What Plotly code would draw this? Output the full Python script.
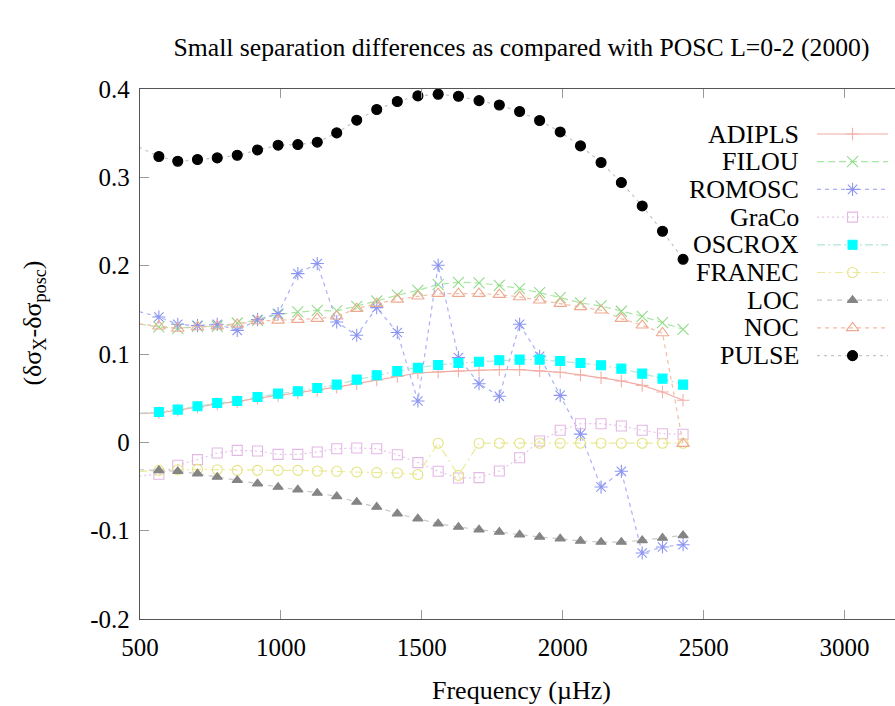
import plotly.graph_objects as go

# Frequencies (µHz) of the compared modes; the first one lies just below the plotted range
freq = [497, 567, 634, 704, 774, 845, 917, 990, 1060, 1129, 1198, 1269, 1340, 1413,
        1486, 1558, 1630, 1703, 1775, 1847, 1918, 1991, 2063, 2136, 2208, 2282, 2354, 2427]

adipls = [0.0325, 0.0335, 0.0365, 0.0400, 0.0435, 0.0460, 0.0500, 0.0530, 0.0560, 0.0590,
          0.0625, 0.0665, 0.0705, 0.0745, 0.0785, 0.0797, 0.0808, 0.0815, 0.0823, 0.0823,
          0.0808, 0.0793, 0.0763, 0.0732, 0.0695, 0.0645, 0.0570, 0.0476]
filou = [0.1340, 0.1306, 0.1289, 0.1314, 0.1314, 0.1351, 0.1381, 0.1450, 0.1476, 0.1495,
         0.1487, 0.1540, 0.1600, 0.1666, 0.1721, 0.1786, 0.1812, 0.1804, 0.1778, 0.1740,
         0.1695, 0.1638, 0.1578, 0.1544, 0.1484, 0.1427, 0.1355, 0.1280]
romosc = [0.1480, 0.1419, 0.1336, 0.1321, 0.1336, 0.1268, 0.1389, 0.1457, 0.1910, 0.2024,
          0.1363, 0.1212, 0.1525, 0.1244, 0.0468, 0.2005, 0.0959, 0.0664, 0.0521, 0.1336,
          0.0974, 0.0532, 0.0093, -0.0506, -0.0328, -0.1253, -0.1185, -0.1159]
graco = [-0.0380, -0.0362, -0.0260, -0.0196, -0.0121, -0.0091, -0.0098, -0.0136, -0.0136, -0.0110,
         -0.0072, -0.0064, -0.0072, -0.0140, -0.0230, -0.0328, -0.0404, -0.0400, -0.0325, -0.0174,
         0.0015, 0.0136, 0.0211, 0.0211, 0.0185, 0.0136, 0.0098, 0.0091]
oscrox = [0.0330, 0.0343, 0.0370, 0.0408, 0.0445, 0.0468, 0.0513, 0.0551, 0.0578, 0.0615,
          0.0653, 0.0710, 0.0759, 0.0806, 0.0845, 0.0876, 0.0898, 0.0913, 0.0929, 0.0936,
          0.0936, 0.0921, 0.0898, 0.0872, 0.0834, 0.0778, 0.0721, 0.0653]
franec = [-0.0330, -0.0317, -0.0310, -0.0306, -0.0310, -0.0317, -0.0317, -0.0317, -0.0317, -0.0325,
          -0.0328, -0.0336, -0.0343, -0.0347, -0.0364, -0.0010, -0.0374, -0.0010, -0.0010, -0.0010,
          -0.0010, -0.0010, -0.0010, -0.0010, -0.0010, -0.0010, -0.0010, -0.0010]
loc = [-0.0310, -0.0317, -0.0328, -0.0355, -0.0393, -0.0430, -0.0468, -0.0506, -0.0536, -0.0574,
       -0.0612, -0.0676, -0.0732, -0.0808, -0.0864, -0.0921, -0.0959, -0.0989, -0.1015, -0.1046,
       -0.1072, -0.1091, -0.1117, -0.1129, -0.1129, -0.1110, -0.1083, -0.1053]
noc = [0.1340, 0.1314, 0.1289, 0.1306, 0.1314, 0.1336, 0.1374, 0.1381, 0.1389, 0.1400,
       0.1427, 0.1514, 0.1570, 0.1618, 0.1653, 0.1684, 0.1684, 0.1684, 0.1672, 0.1646,
       0.1608, 0.1570, 0.1533, 0.1495, 0.1400, 0.1325, 0.1238, -0.0015]
pulse = [0.3340, 0.3236, 0.3182, 0.3202, 0.3220, 0.3250, 0.3310, 0.3364, 0.3371, 0.3398,
         0.3503, 0.3647, 0.3768, 0.3858, 0.3922, 0.3941, 0.3918, 0.3868, 0.3819, 0.3745,
         0.3643, 0.3514, 0.3356, 0.3168, 0.2941, 0.2676, 0.2390, 0.2072]

x_range = [500, 3179]
y_range = [-0.2, 0.4]
x_ticks = [500, 1000, 1500, 2000, 2500, 3000]
y_ticks = [-0.2, -0.1, 0, 0.1, 0.2, 0.3, 0.4]
y_tick_text = ["-0.2", "-0.1", "0", "0.1", "0.2", "0.3", "0.4"]

FONT = "Liberation Serif, Times New Roman, Times, serif"

# name, values, line colour, dash, marker symbol, marker colour, marker size
series = [
    ("ADIPLS", adipls, "#f2aaa2", "solid", "cross-thin-open", "#f2b0a8", 9),
    ("FILOU", filou, "#a8e6a0", "7px,4px", "x-thin-open", "#90dc88", 11),
    ("ROMOSC", romosc, "#aab0f6", "4px,4px", "asterisk-open", "#8c96f2", 11),
    ("GraCo", graco, "#e8c4ea", "2px,3px", "square-open", "#e2b8e4", 10),
    ("OSCROX", oscrox, "#b4e4dc", "8px,3px,2px,3px", "square", "#00ffff", 9),
    ("FRANEC", franec, "#eaea98", "8px,4px,2px,4px", "circle-open", "#e4e480", 10),
    ("LOC", loc, "#c8c8c8", "5px,5px", "triangle-up", "#858585", 9),
    ("NOC", noc, "#f2bca6", "4px,4px", "triangle-up-open", "#eeaa90", 11),
    ("PULSE", pulse, "#c4c4c4", "3px,4px", "circle", "#000000", 10),
]

fig = go.Figure()

for name, vals, lc, dash, sym, mc, ms in series:
    fig.add_trace(go.Scatter(
        x=freq, y=vals, mode="lines", showlegend=False,
        line=dict(color=lc, width=1.2, dash=dash), hoverinfo="skip"))
    inside = [(f, v) for f, v in zip(freq, vals) if f >= x_range[0]]
    fig.add_trace(go.Scatter(
        x=[p[0] for p in inside], y=[p[1] for p in inside], mode="markers", name=name,
        showlegend=False,
        marker=dict(symbol=sym, size=ms, color=mc, line=dict(color=mc, width=1.1))))

# Key drawn on an overlay axis measured in pixels, text to the left of each sample
L, R, T, B = 139.5, 895, 89, 619
key_top, key_step = 134, 27.7
key_text_right, key_x0, key_x1 = 801, 817, 888
for i, (name, vals, lc, dash, sym, mc, ms) in enumerate(series):
    ky = key_top + key_step * i
    fig.add_trace(go.Scatter(
        x=[key_x0, key_x1], y=[ky, ky], mode="lines", xaxis="x2", yaxis="y2",
        showlegend=False, hoverinfo="skip",
        line=dict(color=lc, width=1.2, dash=dash)))
    fig.add_trace(go.Scatter(
        x=[(key_x0 + key_x1) / 2], y=[ky], mode="markers", xaxis="x2", yaxis="y2",
        showlegend=False, hoverinfo="skip",
        marker=dict(symbol=sym, size=ms, color=mc, line=dict(color=mc, width=1.1))))
    fig.add_annotation(x=key_text_right, y=ky, xref="x2", yref="y2", text=name,
                       showarrow=False, xanchor="right", yanchor="middle",
                       font=dict(family=FONT, size=26, color="black"))

axis_common = dict(
    showgrid=False, zeroline=False, ticks="inside", ticklen=9, tickwidth=1,
    tickcolor="#9a9a9a", linecolor="#555555", linewidth=1.3, showline=True,
    tickfont=dict(family=FONT, size=25, color="black"),
)

fig.update_layout(
    width=895, height=706,
    margin=dict(l=L, r=0, t=T, b=706 - B, pad=0),
    paper_bgcolor="white", plot_bgcolor="white",
    showlegend=False,
    font=dict(family=FONT, color="black"),
    xaxis=dict(range=x_range, tickvals=x_ticks, mirror="ticks", ticklabelstandoff=6,
               **axis_common),
    yaxis=dict(range=y_range, tickvals=y_ticks, ticktext=y_tick_text, mirror=False,
               ticklabelstandoff=4, **axis_common),
    xaxis2=dict(overlaying="x", range=[L, R], visible=False, fixedrange=True),
    yaxis2=dict(overlaying="y", range=[B, T], visible=False, fixedrange=True),
    title=dict(text="Small separation differences as compared with POSC L=0-2 (2000)",
               x=521.5 / 895, xref="container", xanchor="center",
               y=1 - 47 / 706, yref="container", yanchor="middle",
               font=dict(family=FONT, size=25.7, color="black")),
)

fig.add_annotation(text="Frequency (µHz)", x=(521.5 - L) / (R - L), y=(B - 690) / (B - T),
                   xref="paper", yref="paper", showarrow=False,
                   xanchor="center", yanchor="middle",
                   font=dict(family=FONT, size=26, color="black"))
fig.add_annotation(text="(δσ<sub>X</sub>-δσ<sub>posc</sub>)",
                   x=(33 - L) / (R - L), y=(B - 323) / (B - T),
                   xref="paper", yref="paper", showarrow=False, textangle=-90,
                   xanchor="center", yanchor="middle",
                   font=dict(family=FONT, size=26, color="black"))

fig.write_html("out.html")
